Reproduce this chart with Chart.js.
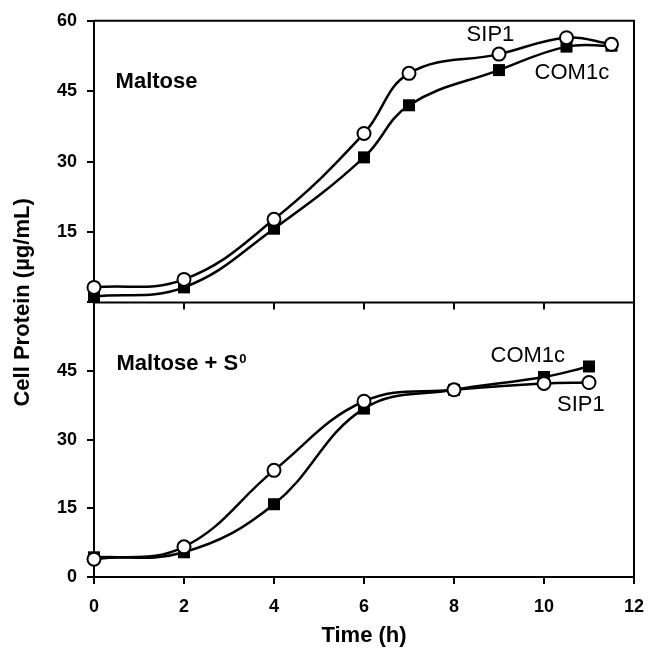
<!DOCTYPE html>
<html>
<head>
<meta charset="utf-8">
<script src="https://cdn.jsdelivr.net/npm/chart.js@4.4.1/dist/chart.umd.min.js"></script>
<style>
  html, body { margin: 0; padding: 0; background: #fff; }
  #wrap { width: 656px; height: 653px; }
</style>
</head>
<body>
<div id="wrap"><canvas id="chart" width="656" height="653"></canvas></div>
<script>
// cell protein vs time, two panels (maltose / maltose + S0)
const hoursTop = [0, 2, 4, 6, 7, 9, 10.5, 11.5];
const sip1Top = [3.2, 4.9, 17.7, 36.0, 48.8, 52.9, 56.4, 55.0];
const com1cTop = [1.3, 3.2, 15.7, 30.9, 42.0, 49.5, 54.5, 54.7];

const hoursBot = [0, 2, 4, 6, 8, 10, 11];
const sip1Bot = [3.9, 6.6, 23.3, 38.4, 40.9, 42.3, 42.5];
const com1cBot = [4.3, 5.4, 15.9, 36.8, 40.9, 43.7, 46.0];

const xTicks = [0, 2, 4, 6, 8, 10, 12];
const yTicks = [0, 15, 30, 45, 60];

const FONT = "'Liberation Sans', Arial, sans-serif";
const toPoints = (xs, ys) => xs.map((x, i) => ({ x: x, y: ys[i] }));

function circleSet(label, xs, ys, axis) {
    return {
        label: label, data: toPoints(xs, ys), yAxisID: axis, order: 0,
        borderColor: '#000', borderWidth: 2.5, tension: 0.4, clip: false,
        pointStyle: 'circle', pointRadius: 6.5, pointBorderWidth: 2,
        pointBackgroundColor: '#fff', pointBorderColor: '#000'
    };
}
function squareSet(label, xs, ys, axis) {
    return {
        label: label, data: toPoints(xs, ys), yAxisID: axis, order: 1,
        borderColor: '#000', borderWidth: 2.5, tension: 0.4, clip: false,
        pointStyle: 'rect', pointRadius: 8.5, pointBorderWidth: 0,
        pointBackgroundColor: '#000', pointBorderColor: '#000'
    };
}

// frame, divider, inner ticks and text labels
const framePlugin = {
    id: 'frame',
    afterDraw(chart) {
        const { ctx, chartArea } = chart;
        const xs = chart.scales.x, yt = chart.scales.yTop, yb = chart.scales.yBot;
        const mid = yt.bottom;
        ctx.save();
        ctx.strokeStyle = '#000';
        ctx.lineWidth = 2;
        ctx.beginPath();
        ctx.moveTo(chartArea.left, chartArea.top);
        ctx.lineTo(chartArea.right, chartArea.top);
        ctx.lineTo(chartArea.right, chartArea.bottom);
        ctx.moveTo(chartArea.left, mid);
        ctx.lineTo(chartArea.right, mid);
        xTicks.forEach(v => {
            const px = xs.getPixelForValue(v);
            ctx.moveTo(px, mid);
            ctx.lineTo(px, mid + 7);
        });
        ctx.stroke();

        ctx.fillStyle = '#000';
        ctx.textBaseline = 'middle';

        // panel names
        ctx.textAlign = 'left';
        ctx.font = 'bold 22px ' + FONT;
        ctx.fillText('Maltose', xs.getPixelForValue(0.48), yt.getPixelForValue(47));
        const bx = xs.getPixelForValue(0.5), by = yb.getPixelForValue(46.5);
        const main = 'Maltose + S';
        ctx.fillText(main, bx, by);
        const w = ctx.measureText(main).width;
        ctx.font = 'bold 13px ' + FONT;
        ctx.fillText('0', bx + w + 1, by - 5);

        // series names
        ctx.textAlign = 'center';
        ctx.font = '22px ' + FONT;
        ctx.fillText('SIP1', xs.getPixelForValue(8.81), yt.getPixelForValue(57.0));
        ctx.fillText('COM1c', xs.getPixelForValue(10.62), yt.getPixelForValue(48.9));
        ctx.fillText('COM1c', xs.getPixelForValue(9.64), yb.getPixelForValue(48.2));
        ctx.fillText('SIP1', xs.getPixelForValue(10.82), yb.getPixelForValue(37.6));

        // y axis title
        ctx.font = 'bold 22px ' + FONT;
        ctx.translate(23, mid);
        ctx.rotate(-Math.PI / 2);
        ctx.fillText('Cell Protein (\u00b5g/mL)', 0, 0);
        ctx.restore();
    }
};

const tickFont = { family: FONT, size: 18, weight: 'bold' };

function yAxis(weight, hideValue) {
    return {
        type: 'linear', position: 'left', stack: 'protein', stackWeight: weight,
        min: 0, max: 60,
        afterBuildTicks: s => { s.ticks = yTicks.map(v => ({ value: v })); },
        afterFit: s => { s.width = 94; },
        ticks: {
            font: tickFont, color: '#000', padding: 10,
            callback: v => (v === hideValue ? '' : v)
        },
        grid: { drawOnChartArea: false, drawTicks: true, tickLength: 7, color: '#000', lineWidth: 2 },
        border: { color: '#000', width: 2 }
    };
}

new Chart(document.getElementById('chart'), {
    type: 'line',
    data: {
        datasets: [
            circleSet('SIP1', hoursTop, sip1Top, 'yTop'),
            squareSet('COM1c', hoursTop, com1cTop, 'yTop'),
            circleSet('SIP1', hoursBot, sip1Bot, 'yBot'),
            squareSet('COM1c', hoursBot, com1cBot, 'yBot')
        ]
    },
    options: {
        responsive: false,
        animation: false,
        layout: { padding: { top: 20, right: 13, left: 0, bottom: 0 } },
        plugins: { legend: { display: false }, tooltip: { enabled: false } },
        scales: {
            x: {
                type: 'linear', min: 0, max: 12,
                afterBuildTicks: s => { s.ticks = xTicks.map(v => ({ value: v })); },
                afterFit: s => { s.height = 76; },
                ticks: { font: tickFont, color: '#000', padding: 12 },
                grid: { drawOnChartArea: false, drawTicks: true, tickLength: 7, color: '#000', lineWidth: 2 },
                border: { color: '#000', width: 2 },
                title: {
                    display: true, text: 'Time (h)', color: '#000',
                    font: { family: FONT, size: 22, weight: 'bold' },
                    padding: { top: 0, bottom: 4 }
                }
            },
            yBot: yAxis(275, 60),
            yTop: yAxis(282, 0)
        }
    },
    plugins: [framePlugin]
});
</script>
</body>
</html>
